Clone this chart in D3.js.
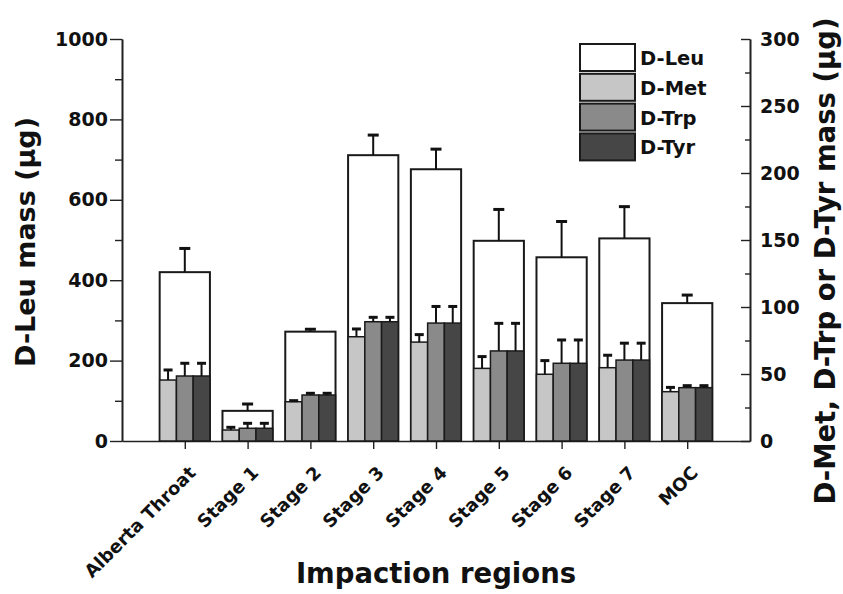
<!DOCTYPE html>
<html>
<head>
<meta charset="utf-8">
<script src="https://cdn.jsdelivr.net/npm/d3@7"></script>
<style>
  body { margin: 0; background: #fff; }
  text { font-family: "DejaVu Sans", sans-serif; font-weight: bold; fill: #111; }
</style>
</head>
<body>
<div id="container"></div>
<script>
// data we work with
let categories = ["Alberta Throat", "Stage 1", "Stage 2", "Stage 3", "Stage 4", "Stage 5", "Stage 6", "Stage 7", "MOC"];
let leu    = [420, 75, 272, 711, 676, 498, 457, 504, 343];
let leuErr = [59, 17, 6, 50, 50, 78, 89, 79, 20];
let met    = [45.5, 8.2, 29.3, 77.8, 73.8, 54.2, 49.8, 54.7, 36.8];
let metErr = [7.5, 2, 0.8, 5.8, 5.6, 8.8, 10.2, 9.3, 3.2];
let trp    = [48.5, 9.5, 34.3, 89, 88, 67.2, 58, 60.4, 39.8];
let trpErr = [9.5, 3.7, 1.3, 3.3, 12.4, 20.6, 17.4, 12.6, 1.5];
let tyr    = [48.5, 9.5, 34.3, 89, 88, 67.2, 58, 60.4, 39.8];
let tyrErr = [9.5, 3.7, 1.3, 3.3, 12.4, 20.6, 17.4, 12.6, 1.5];

let leftTicks = [0, 200, 400, 600, 800, 1000];
let leftMinor = [100, 300, 500, 700, 900];
let rightTicks = [0, 50, 100, 150, 200, 250, 300];
let rightMinor = [25, 75, 125, 175, 225, 275];
let legendNames = ["D-Leu", "D-Met", "D-Trp", "D-Tyr"];
let legendColors = ["#ffffff", "#c6c6c6", "#8a8a8a", "#464646"];

const w = 843;
const h = 594;
let viz = d3.select("#container")
  .append("svg")
    .attr("width", w)
    .attr("height", h)
;

let xScale = d3.scaleLinear().domain([0, 10]).range([122, 750]);
let yLeft = d3.scaleLinear().domain([0, 1000]).range([441, 39]);
let yRight = d3.scaleLinear().domain([0, 300]).range([441, 39]);

let barW = xScale(0.8) - xScale(0);
let subW = barW / 3;

// axes
let leftAxis = d3.axisLeft(yLeft).tickValues(leftTicks).tickSize(12).tickSizeOuter(0).tickPadding(2).tickFormat(d3.format("d"));
viz.append("g").attr("transform", "translate(122,0)").call(leftAxis);
viz.append("g").attr("transform", "translate(122,0)")
  .call(d3.axisLeft(yLeft).tickValues(leftMinor).tickSize(7).tickSizeOuter(0).tickFormat(""));

let rightAxis = d3.axisRight(yRight).tickValues(rightTicks).tickSize(-9).tickSizeOuter(0).tickPadding(10).tickFormat(d3.format("d"));
viz.append("g").attr("transform", "translate(750,0)").call(rightAxis);
viz.append("g").attr("transform", "translate(750,0)")
  .call(d3.axisRight(yRight).tickValues(rightMinor).tickSize(-5).tickSizeOuter(0).tickFormat(""));

let bottomAxis = d3.axisBottom(xScale).tickValues(d3.range(1, 10)).tickSize(8).tickSizeOuter(0).tickFormat("");
viz.append("g").attr("transform", "translate(0,441)").call(bottomAxis);

viz.selectAll(".domain").attr("stroke", "#222").attr("stroke-width", 1.6);
viz.selectAll(".tick line").attr("stroke", "#222").attr("stroke-width", 1.4);
viz.selectAll(".tick text").style("font-size", "19px").style("font-family", "DejaVu Sans").style("font-weight", "bold").attr("fill", "#111");

// category labels
viz.selectAll(".catlabel").data(categories).enter()
  .append("text")
    .attr("class", "catlabel")
    .attr("text-anchor", "end")
    .attr("transform", (d, i) => "translate(" + (xScale(i + 1) + 12) + ",474) rotate(-45)")
    .style("font-size", "18px")
    .text(d => d)
;

// axis titles
viz.append("text")
  .attr("text-anchor", "middle")
  .attr("transform", "translate(35,242) rotate(-90)")
  .style("font-size", "27px")
  .text("D-Leu mass (µg)");

viz.append("text")
  .attr("text-anchor", "middle")
  .attr("transform", "translate(835,261) rotate(-90)")
  .style("font-size", "27.5px")
  .text("D-Met, D-Trp or D-Tyr mass (µg)");

viz.append("text")
  .attr("text-anchor", "middle")
  .attr("x", 436)
  .attr("y", 583)
  .style("font-size", "27.5px")
  .text("Impaction regions");

// D-Leu bars
viz.selectAll(".leu").data(leu).enter()
  .append("rect")
    .attr("x", (d, i) => xScale(i + 1) - barW / 2)
    .attr("y", d => yLeft(d))
    .attr("width", barW)
    .attr("height", d => yLeft(0) - yLeft(d))
    .attr("fill", "#fff")
    .attr("stroke", "#1a1a1a")
    .attr("stroke-width", 2)
;

function errorBars(vals, errs, scale, cx, cap) {
  let g = viz.append("g").attr("stroke", "#111");
  g.selectAll("line.v").data(vals).enter()
    .append("line")
      .attr("x1", (d, i) => cx(i)).attr("x2", (d, i) => cx(i))
      .attr("y1", d => scale(d)).attr("y2", (d, i) => scale(d + errs[i]))
      .attr("stroke-width", 2);
  g.selectAll("line.c").data(vals).enter()
    .append("line")
      .attr("x1", (d, i) => cx(i) - cap / 2).attr("x2", (d, i) => cx(i) + cap / 2)
      .attr("y1", (d, i) => scale(d + errs[i])).attr("y2", (d, i) => scale(d + errs[i]))
      .attr("stroke-width", 3);
}

errorBars(leu, leuErr, yLeft, i => xScale(i + 1), 11);

// small bars on right scale
let subSeries = [met, trp, tyr];
let subErrs = [metErr, trpErr, tyrErr];
subSeries.forEach(function(vals, k) {
  viz.selectAll(".sub" + k).data(vals).enter()
    .append("rect")
      .attr("x", (d, i) => xScale(i + 1) - barW / 2 + k * subW)
      .attr("y", d => yRight(d))
      .attr("width", subW)
      .attr("height", d => yRight(0) - yRight(d))
      .attr("fill", legendColors[k + 1])
      .attr("stroke", "#1a1a1a")
      .attr("stroke-width", 1.5)
  ;
  errorBars(vals, subErrs[k], yRight, i => xScale(i + 1) - barW / 2 + k * subW + subW / 2, 9);
});

// legend
let legend = viz.append("g").attr("transform", "translate(580,44)");
legend.selectAll("rect").data(legendNames).enter()
  .append("rect")
    .attr("x", 0)
    .attr("y", (d, i) => i * 29.8)
    .attr("width", 55)
    .attr("height", 27)
    .attr("fill", (d, i) => legendColors[i])
    .attr("stroke", "#1a1a1a")
    .attr("stroke-width", 2)
;
legend.selectAll("text").data(legendNames).enter()
  .append("text")
    .attr("x", 60)
    .attr("y", (d, i) => i * 29.8 + 21)
    .style("font-size", "19.5px")
    .text(d => d)
;
</script>
</body>
</html>
